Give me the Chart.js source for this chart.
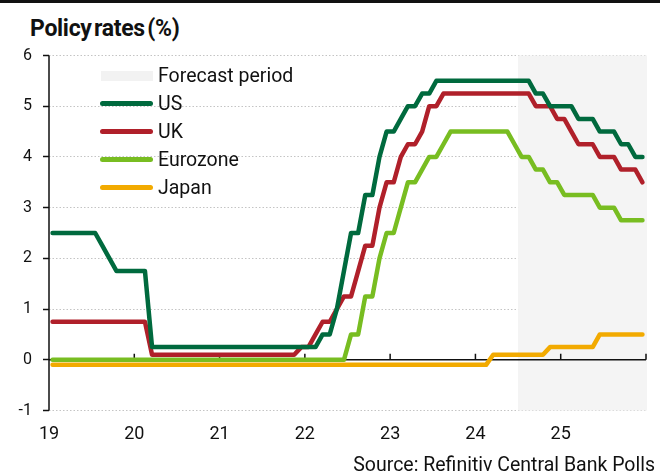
<!DOCTYPE html>
<html>
<head>
<meta charset="utf-8">
<script src="https://cdn.jsdelivr.net/npm/chart.js@4.4.0/dist/chart.umd.min.js"></script>
<style>
html,body{margin:0;padding:0;background:#fff;}
#wrap{position:relative;width:660px;height:475px;overflow:hidden;font-family:Roboto,"Liberation Sans",sans-serif;color:#111;}
#topbar{position:absolute;left:0;top:0;width:660px;height:3px;background:#111;}
#title{position:absolute;left:30px;top:17px;font-weight:700;font-size:23px;line-height:23px;letter-spacing:-0.3px;word-spacing:-3px;white-space:nowrap;}
#chart{position:absolute;left:0;top:0;}
.lg{position:absolute;left:158px;font-size:19.5px;line-height:19px;white-space:nowrap;}
.sw{position:absolute;left:100px;width:53px;height:5px;border-radius:3px;}
.box{position:absolute;left:101px;top:71px;width:52px;height:10px;background:#f2f2f2;}
#source{position:absolute;right:5px;top:455px;font-size:19.5px;line-height:19px;white-space:nowrap;}
</style>
</head>
<body>
<div id="wrap">
  <div id="topbar"></div>
  <div id="title">Policy rates (%)</div>
  <canvas id="chart" width="660" height="475"></canvas>
  <div class="box"></div><div class="lg" style="top:66px">Forecast period</div>
  <div class="sw" style="top:101px;background:#006a3e"></div><div class="lg" style="top:94px">US</div>
  <div class="sw" style="top:129px;background:#b0202a"></div><div class="lg" style="top:122px">UK</div>
  <div class="sw" style="top:157px;background:#78bd21"></div><div class="lg" style="top:150px">Eurozone</div>
  <div class="sw" style="top:185px;background:#f2aa00"></div><div class="lg" style="top:178px">Japan</div>
  <div id="source">Source: Refinitiv Central Bank Polls</div>
</div>
<script>
// Monthly observations, Jan 2019 .. Dec 2025 (one row per year)
const startYear = 2019;
const endYear = 2026;
const forecastStart = 2024.5;
const yTicks = [-1, 0, 1, 2, 3, 4, 5, 6];
const yearLabels = ['19', '20', '21', '22', '23', '24', '25'];
const seriesNames = ['US', 'UK', 'Eurozone', 'Japan'];
const seriesColors = ['#006a3e', '#b0202a', '#78bd21', '#f2aa00'];

const us = [
  2.5, 2.5, 2.5, 2.5, 2.5, 2.5, 2.5, 2.25, 2.0, 1.75, 1.75, 1.75,
  1.75, 1.75, 0.25, 0.25, 0.25, 0.25, 0.25, 0.25, 0.25, 0.25, 0.25, 0.25,
  0.25, 0.25, 0.25, 0.25, 0.25, 0.25, 0.25, 0.25, 0.25, 0.25, 0.25, 0.25,
  0.25, 0.25, 0.5, 0.5, 1.0, 1.75, 2.5, 2.5, 3.25, 3.25, 4.0, 4.5,
  4.5, 4.75, 5.0, 5.0, 5.25, 5.25, 5.5, 5.5, 5.5, 5.5, 5.5, 5.5,
  5.5, 5.5, 5.5, 5.5, 5.5, 5.5, 5.5, 5.5, 5.25, 5.25, 5.0, 5.0,
  5.0, 5.0, 4.75, 4.75, 4.75, 4.5, 4.5, 4.5, 4.25, 4.25, 4.0, 4.0
];
const uk = [
  0.75, 0.75, 0.75, 0.75, 0.75, 0.75, 0.75, 0.75, 0.75, 0.75, 0.75, 0.75,
  0.75, 0.75, 0.1, 0.1, 0.1, 0.1, 0.1, 0.1, 0.1, 0.1, 0.1, 0.1,
  0.1, 0.1, 0.1, 0.1, 0.1, 0.1, 0.1, 0.1, 0.1, 0.1, 0.1, 0.25,
  0.25, 0.5, 0.75, 0.75, 1.0, 1.25, 1.25, 1.75, 2.25, 2.25, 3.0, 3.5,
  3.5, 4.0, 4.25, 4.25, 4.5, 5.0, 5.0, 5.25, 5.25, 5.25, 5.25, 5.25,
  5.25, 5.25, 5.25, 5.25, 5.25, 5.25, 5.25, 5.25, 5.0, 5.0, 5.0, 4.75,
  4.75, 4.5, 4.25, 4.25, 4.25, 4.0, 4.0, 4.0, 3.75, 3.75, 3.75, 3.5
];
const eurozone = [
  0, 0, 0, 0, 0, 0, 0, 0, 0, 0, 0, 0,
  0, 0, 0, 0, 0, 0, 0, 0, 0, 0, 0, 0,
  0, 0, 0, 0, 0, 0, 0, 0, 0, 0, 0, 0,
  0, 0, 0, 0, 0, 0, 0.5, 0.5, 1.25, 1.25, 2.0, 2.5,
  2.5, 3.0, 3.5, 3.5, 3.75, 4.0, 4.0, 4.25, 4.5, 4.5, 4.5, 4.5,
  4.5, 4.5, 4.5, 4.5, 4.5, 4.25, 4.0, 4.0, 3.75, 3.75, 3.5, 3.5,
  3.25, 3.25, 3.25, 3.25, 3.25, 3.0, 3.0, 3.0, 2.75, 2.75, 2.75, 2.75
];
const japan = [
  -0.1, -0.1, -0.1, -0.1, -0.1, -0.1, -0.1, -0.1, -0.1, -0.1, -0.1, -0.1,
  -0.1, -0.1, -0.1, -0.1, -0.1, -0.1, -0.1, -0.1, -0.1, -0.1, -0.1, -0.1,
  -0.1, -0.1, -0.1, -0.1, -0.1, -0.1, -0.1, -0.1, -0.1, -0.1, -0.1, -0.1,
  -0.1, -0.1, -0.1, -0.1, -0.1, -0.1, -0.1, -0.1, -0.1, -0.1, -0.1, -0.1,
  -0.1, -0.1, -0.1, -0.1, -0.1, -0.1, -0.1, -0.1, -0.1, -0.1, -0.1, -0.1,
  -0.1, -0.1, 0.1, 0.1, 0.1, 0.1, 0.1, 0.1, 0.1, 0.1, 0.25, 0.25,
  0.25, 0.25, 0.25, 0.25, 0.25, 0.5, 0.5, 0.5, 0.5, 0.5, 0.5, 0.5
];

const seriesValues = [us, uk, eurozone, japan];
// mid-month position of each observation on the year axis
const toPoints = vals => vals.map((v, i) => ({ x: startYear + (i + 0.5) / 12, y: v }));

const overlay = {
  id: 'overlay',
  beforeDatasetsDraw(chart) {
    const { ctx, chartArea: a, scales: { x, y } } = chart;
    ctx.save();
    const xs = x.getPixelForValue(forecastStart);
    ctx.fillStyle = '#f4f4f4';
    ctx.fillRect(xs, a.top, a.right - xs + 1, a.bottom - a.top);
    ctx.strokeStyle = '#111';
    ctx.lineWidth = 1.5;
    ctx.beginPath();
    ctx.moveTo(a.left, a.top);
    ctx.lineTo(a.left, a.bottom);
    const y0 = y.getPixelForValue(0);
    ctx.moveTo(a.left, y0);
    ctx.lineTo(a.right, y0);
    x.ticks.forEach(t => {
      const px = x.getPixelForValue(t.value);
      if (px > a.left + 2) { ctx.moveTo(px, y0); ctx.lineTo(px, y0 - 6); }
    });
    ctx.stroke();
    ctx.restore();
  }
};

Chart.defaults.font.family = 'Roboto, "Liberation Sans", sans-serif';
Chart.defaults.color = '#111';

new Chart(document.getElementById('chart'), {
  type: 'line',
  data: {
    datasets: seriesNames.map((name, k) => ({
      label: name,
      data: toPoints(seriesValues[k]),
      borderColor: seriesColors[k],
      backgroundColor: seriesColors[k],
      borderWidth: 4.5,
      borderCapStyle: 'round',
      borderJoinStyle: 'round',
      pointRadius: 0,
      tension: 0,
      fill: false
    }))
  },
  options: {
    responsive: false,
    devicePixelRatio: 1,
    animation: false,
    layout: { padding: { top: 55.5, right: 14, left: 0, bottom: 0 } },
    plugins: { legend: { display: false }, tooltip: { enabled: false }, title: { display: false } },
    scales: {
      x: {
        type: 'linear',
        min: startYear,
        max: endYear,
        afterFit(s) { s.height = 64.5; },
        afterBuildTicks(s) { s.ticks = yearLabels.map((l, i) => ({ value: startYear + i })).concat([{ value: endYear }]); },
        ticks: {
          autoSkip: false,
          maxRotation: 0,
          padding: 13,
          font: { size: 18 },
          callback: (v) => { const i = Math.round(v - startYear); return i < yearLabels.length ? yearLabels[i] : ''; }
        },
        grid: { display: false, drawTicks: false },
        border: { display: false }
      },
      y: {
        min: yTicks[0],
        max: yTicks[yTicks.length - 1],
        afterFit(s) { s.width = 49; },
        afterBuildTicks(s) { s.ticks = yTicks.map(v => ({ value: v })); },
        ticks: { padding: 11, font: { size: 16 }, callback: v => String(v) },
        grid: { color: '#c4c4c4', lineWidth: 1, drawTicks: true, tickLength: 6, tickColor: '#111', tickWidth: 1.5 },
        border: { display: false, dash: [1.5, 2] }
      }
    }
  },
  plugins: [overlay]
});
</script>
</body>
</html>
